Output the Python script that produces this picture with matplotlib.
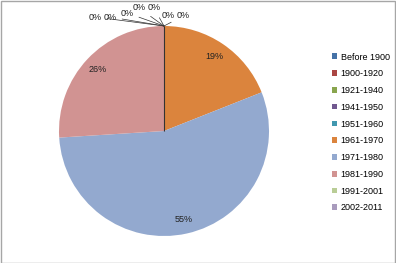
import matplotlib
matplotlib.use("Agg")
import matplotlib.pyplot as plt
from matplotlib.patches import Rectangle

categories = ["Before 1900", "1900-1920", "1921-1940", "1941-1950", "1951-1960",
              "1961-1970", "1971-1980", "1981-1990", "1991-2001", "2002-2011"]
values = [0, 0, 0, 0, 0, 19, 55, 26, 0, 0]
colors = ["#4572A7", "#AA4643", "#89A54E", "#71588F", "#4198AF",
          "#DB843D", "#93A9CF", "#D19392", "#B9CD96", "#A99BBD"]

plt.rcParams['font.family'] = ['Liberation Sans', 'DejaVu Sans']
FS = 6.5

W, H = 396, 263
fig = plt.figure(figsize=(W / 100, H / 100), dpi=100)
fig.patch.set_facecolor("white")

cx, cy, r = 164, 131, 105
ax = fig.add_axes([(cx - r) / W, (H - cy - r) / H, 2 * r / W, 2 * r / H])
total = sum(values)

wedges, texts, autotexts = ax.pie(
    values, colors=colors, startangle=90, counterclock=False,
    autopct=lambda p: f"{p:.0f}%" if p > 0.5 else "",
    pctdistance=0.86, wedgeprops=dict(linewidth=0),
    textprops=dict(fontsize=FS, color="#222222"))
ax.set_xlim(-1, 1)
ax.set_ylim(-1, 1)
ax.set_aspect("equal")
ax.axis("off")

# boundary line of the zero slices
ax.plot([0, 0], [0, 1], color="#333333", lw=0.8, solid_capstyle="butt")

# labels for the zero slices, placed around the top of the pie with leader lines
zero_idx = [i for i, v in enumerate(values) if v == 0]
label_px = [(168, 16), (183, 16), (154, 8), (139, 8), (127, 13), (110, 17), (95, 17)]
for i, (px, py) in zip(zero_idx, label_px):
    pct = values[i] / total * 100
    x = (px - cx) / r
    y = (cy - py) / r
    ax.annotate(f"{pct:.0f}%", xy=(0, 1.0), xytext=(x, y),
                ha="center", va="center", fontsize=FS, color="#222222",
                annotation_clip=False,
                arrowprops=dict(arrowstyle="-", color="#333333", lw=0.5,
                                shrinkA=2, shrinkB=0))

handles = [Rectangle((0, 0), 1, 1, facecolor=c, edgecolor="none") for c in colors]
fig.legend(handles, categories, loc="upper left",
           bbox_to_anchor=(327 / W, 1 - 48 / H), frameon=False,
           fontsize=FS, handlelength=0.6, handleheight=0.6,
           handletextpad=0.4, labelspacing=0.86, borderpad=0)

fig.add_artist(Rectangle((0.5 / W, 0.5 / H), 1 - 1.5 / W, 1 - 1.5 / H,
                         transform=fig.transFigure, fill=False,
                         edgecolor="#A6A6A6", lw=1))

fig.savefig("out.png", dpi=100)
